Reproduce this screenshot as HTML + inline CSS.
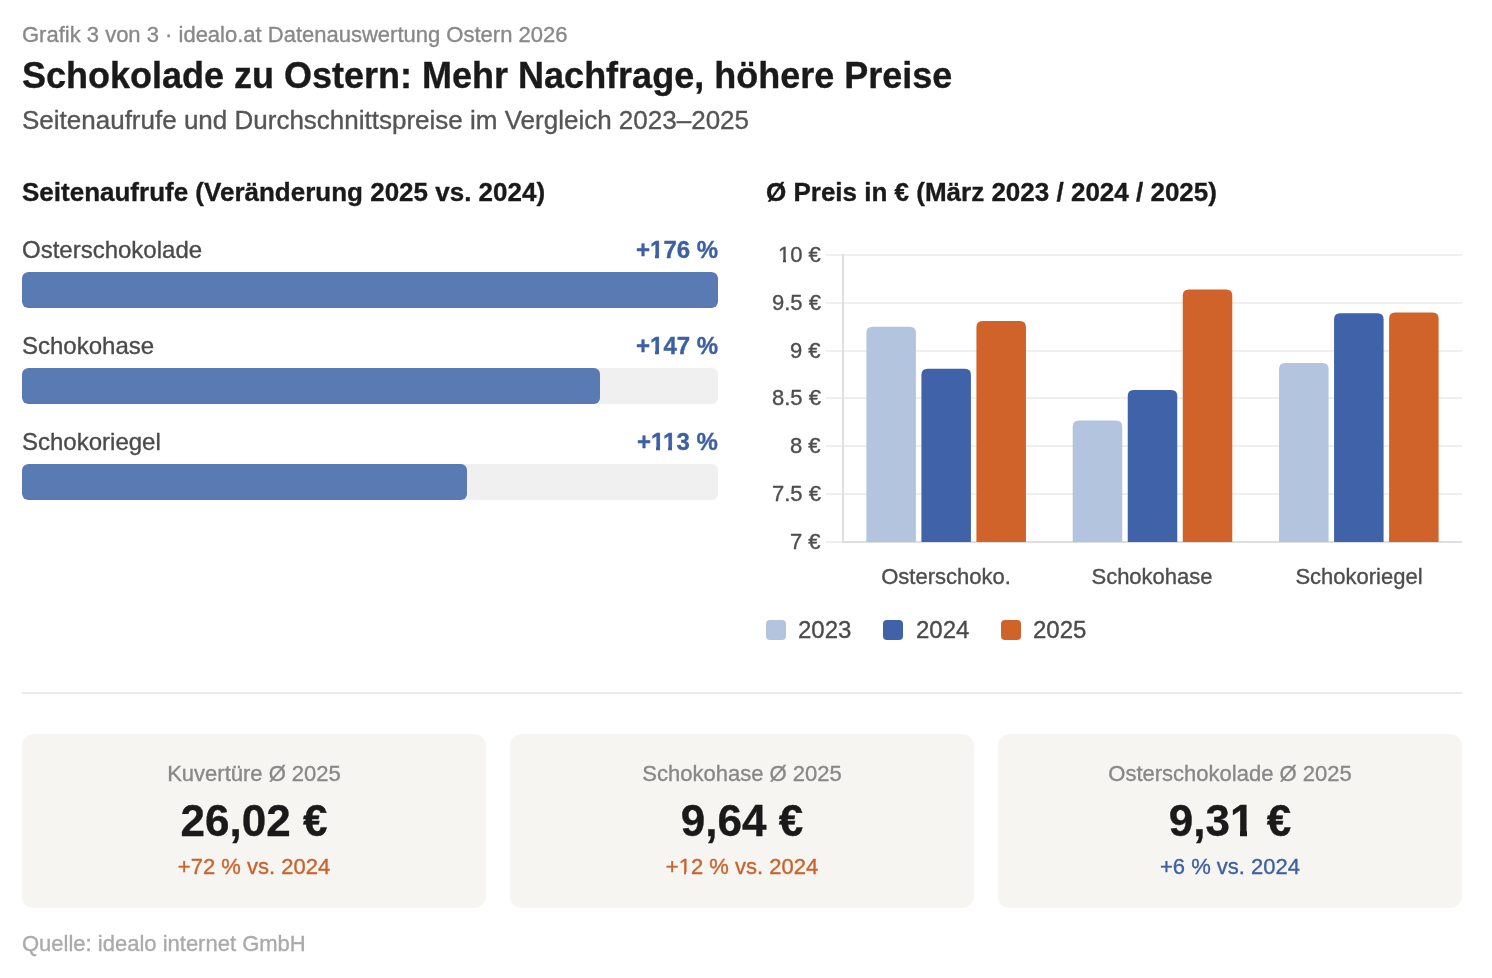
<!DOCTYPE html>
<html lang="de">
<head>
<meta charset="utf-8">
<title>Schokolade zu Ostern</title>
<style>
*{margin:0;padding:0;box-sizing:border-box}
html,body{width:1492px;height:978px;background:#fff;overflow:hidden}
body{position:relative;font-family:"Liberation Sans",sans-serif;color:#1a1a1a}
.t{position:absolute;white-space:nowrap;line-height:1;will-change:transform;-webkit-text-stroke:0.35px currentColor}
.meta{left:22px;top:24px;font-size:22px;color:#888}
.title{left:22px;top:58px;font-size:36px;font-weight:bold;color:#1a1a1a}
.sub{left:22px;top:107px;font-size:26px;color:#555}
.h{top:179px;font-size:26px;font-weight:bold;color:#1a1a1a}
.lbl{left:22px;font-size:24px;color:#4a4a4a}
.pct{right:774px;font-size:24px;font-weight:bold;color:#3d5fa3}
.track{position:absolute;left:22px;width:696px;height:36px;background:#f0f0f0;border-radius:6px;overflow:hidden}
.fill{position:absolute;left:0;top:0;height:36px;background:#5a7ab4;border-radius:6px}
.yt{font-size:22px;color:#4d4d4d;text-align:right;right:671px}
.xl{font-size:22px;color:#4d4d4d;text-align:center;width:200px}
.lg{font-size:24px;color:#4a4a4a}
.sw{position:absolute;width:20px;height:20px;border-radius:4px;top:620px}
.div{position:absolute;left:22px;top:692px;width:1440px;height:2px;background:#ebebeb}
.card{position:absolute;top:734px;width:464px;height:174px;background:#f6f5f2;border-radius:12px}
.cv{font-size:44px;font-weight:bold;color:#1a1a1a;text-align:center;width:464px}
.cl{font-size:22px;color:#888;text-align:center;width:464px}
.cd{font-size:22px;text-align:center;width:464px}
.foot{left:22px;top:933px;font-size:22px;color:#aaa}
.o1{position:relative}
.o1::before,.o1::after{content:'';position:absolute;background:#fff}
.cb::before,.cb::after{background:#f6f5f2}
.r22::before{left:0.68px;width:4.61px;top:17.76px;height:3.44px}
.r22::after{left:7.73px;width:4.43px;top:17.76px;height:3.44px}
.b24::before{left:0.51px;width:4.84px;top:18.95px;height:4.25px}
.b24::after{left:9.14px;width:4.54px;top:18.95px;height:4.25px}
.b44::before{left:1.77px;width:8.25px;top:34.91px;height:6.29px}
.b44::after{left:16.56px;width:7.69px;top:34.91px;height:6.29px}
</style>
</head>
<body>
<div class="t meta">Grafik 3 von 3 · idealo.at Datenauswertung Ostern 2026</div>
<div class="t title">Schokolade zu Ostern: Mehr Nachfrage, höhere Preise</div>
<div class="t sub">Seitenaufrufe und Durchschnittspreise im Vergleich 2023–2025</div>

<div class="t h" style="left:22px">Seitenaufrufe (Veränderung 2025 vs. 2024)</div>
<div class="t h" style="left:766px">Ø Preis in € (März 2023 / 2024 / 2025)</div>

<div class="t lbl" style="top:238px">Osterschokolade</div>
<div class="t pct" style="top:238px">+<span class="o1 b24">1</span>76 %</div>
<div class="track" style="top:272px"><div class="fill" style="width:696px"></div></div>

<div class="t lbl" style="top:334px">Schokohase</div>
<div class="t pct" style="top:334px">+<span class="o1 b24">1</span>47 %</div>
<div class="track" style="top:368px"><div class="fill" style="width:578px"></div></div>

<div class="t lbl" style="top:430px">Schokoriegel</div>
<div class="t pct" style="top:430px">+<span class="o1 b24">1</span><span class="o1 b24" style="margin-left:-1.34px">1</span>3 %</div>
<div class="track" style="top:464px"><div class="fill" style="width:445px"></div></div>

<!-- CHART -->
<svg style="position:absolute;left:0;top:0" width="1492" height="978" viewBox="0 0 1492 978">
  <g fill="#efefef">
    <rect x="826" y="254" width="636" height="2"/>
    <rect x="826" y="302" width="636" height="2"/>
    <rect x="826" y="350" width="636" height="2"/>
    <rect x="826" y="397" width="636" height="2"/>
    <rect x="826" y="445" width="636" height="2"/>
    <rect x="826" y="493" width="636" height="2"/>
    <rect x="826" y="541" width="17" height="2"/>
  </g>
  <rect x="842" y="254" width="2" height="289" fill="#dfdfdf"/>
  <rect x="842" y="541" width="620" height="2" fill="#dfdfdf"/>
  <g id="bars">
<path fill="#b2c4de" d="M866.38,542 L866.38,332.75 Q866.38,326.75 872.38,326.75 L909.90,326.75 Q915.90,326.75 915.90,332.75 L915.90,542 Z"/>
<path fill="#3f62a8" d="M921.41,542 L921.41,374.85 Q921.41,368.85 927.41,368.85 L964.93,368.85 Q970.93,368.85 970.93,374.85 L970.93,542 Z"/>
<path fill="#d0632a" d="M976.43,542 L976.43,327.01 Q976.43,321.01 982.43,321.01 L1019.95,321.01 Q1025.95,321.01 1025.95,327.01 L1025.95,542 Z"/>
<path fill="#b2c4de" d="M1072.72,542 L1072.72,426.51 Q1072.72,420.51 1078.72,420.51 L1116.24,420.51 Q1122.24,420.51 1122.24,426.51 L1122.24,542 Z"/>
<path fill="#3f62a8" d="M1127.74,542 L1127.74,395.89 Q1127.74,389.89 1133.74,389.89 L1171.26,389.89 Q1177.26,389.89 1177.26,395.89 L1177.26,542 Z"/>
<path fill="#d0632a" d="M1182.76,542 L1182.76,295.44 Q1182.76,289.44 1188.76,289.44 L1226.28,289.44 Q1232.28,289.44 1232.28,295.44 L1232.28,542 Z"/>
<path fill="#b2c4de" d="M1279.05,542 L1279.05,369.11 Q1279.05,363.11 1285.05,363.11 L1322.57,363.11 Q1328.57,363.11 1328.57,369.11 L1328.57,542 Z"/>
<path fill="#3f62a8" d="M1334.07,542 L1334.07,319.36 Q1334.07,313.36 1340.07,313.36 L1377.59,313.36 Q1383.59,313.36 1383.59,319.36 L1383.59,542 Z"/>
<path fill="#d0632a" d="M1389.10,542 L1389.10,318.40 Q1389.10,312.40 1395.10,312.40 L1432.62,312.40 Q1438.62,312.40 1438.62,318.40 L1438.62,542 Z"/>
</g>
</svg>

<div class="t yt" style="top:244px"><span class="o1 r22">1</span>0 €</div>
<div class="t yt" style="top:292px">9.5 €</div>
<div class="t yt" style="top:340px">9 €</div>
<div class="t yt" style="top:387px">8.5 €</div>
<div class="t yt" style="top:435px">8 €</div>
<div class="t yt" style="top:483px">7.5 €</div>
<div class="t yt" style="top:531px">7 €</div>

<div class="t xl" style="left:846px;top:566px">Osterschoko.</div>
<div class="t xl" style="left:1052px;top:566px">Schokohase</div>
<div class="t xl" style="left:1259px;top:566px">Schokoriegel</div>

<div class="sw" style="left:766px;background:#b2c4de"></div>
<div class="t lg" style="left:798px;top:618px">2023</div>
<div class="sw" style="left:883px;background:#3f62a8"></div>
<div class="t lg" style="left:916px;top:618px">2024</div>
<div class="sw" style="left:1001px;background:#d0632a"></div>
<div class="t lg" style="left:1033px;top:618px">2025</div>

<div class="div"></div>

<div class="card" style="left:22px"></div>
<div class="card" style="left:510px"></div>
<div class="card" style="left:998px"></div>

<div class="t cl" style="left:22px;top:763px">Kuvertüre Ø 2025</div>
<div class="t cv" style="left:22px;top:799px">26,02 €</div>
<div class="t cd" style="left:22px;top:856px;color:#c9622b">+72 % vs. 2024</div>

<div class="t cl" style="left:510px;top:763px">Schokohase Ø 2025</div>
<div class="t cv" style="left:510px;top:799px">9,64 €</div>
<div class="t cd" style="left:510px;top:856px;color:#c9622b">+<span class="o1 r22 cb">1</span>2 % vs. 2024</div>

<div class="t cl" style="left:998px;top:763px">Osterschokolade Ø 2025</div>
<div class="t cv" style="left:998px;top:799px">9,3<span class="o1 b44 cb">1</span> €</div>
<div class="t cd" style="left:998px;top:856px;color:#3d5fa3">+6 % vs. 2024</div>

<div class="t foot">Quelle: idealo internet GmbH</div>
</body>
</html>
